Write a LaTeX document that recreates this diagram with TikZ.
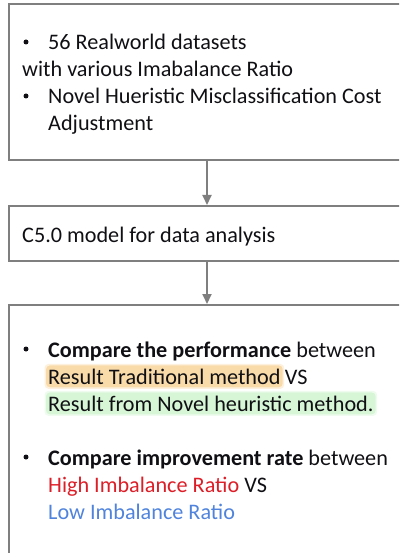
\documentclass[tikz,border=0pt]{standalone}
\usepackage{fontspec}
\setmainfont{Carlito}
\usetikzlibrary{arrows.meta,fit,backgrounds}
\definecolor{frame}{HTML}{7F7F7F}
\definecolor{ink}{HTML}{101014}
\definecolor{hired}{HTML}{DC1E28}
\definecolor{loblue}{HTML}{4F83DC}
\definecolor{glowor}{HTML}{F9DBAA}
\definecolor{glowgr}{HTML}{D6F6D6}

\begin{document}
\begin{tikzpicture}[x=1pt,y=-1pt,
  box/.style={draw=frame, line width=2pt, minimum width=396pt, inner sep=0pt},
  txt/.style={anchor=base west, inner sep=0pt, text=ink, font=\fontsize{22.2}{27}\selectfont},
  dot/.style={circle, fill=ink, inner sep=0pt, minimum size=5pt},
  flow/.style={draw=frame, line width=2pt, -{Triangle[length=10pt,width=9pt]}},
  glow/.style={inner xsep=2pt, inner ysep=3pt, rounded corners=4pt},
]
\useasboundingbox (0,0) rectangle (399,553);
\clip (0,0) rectangle (399,553);

% process boxes
\node[box, minimum height=155.5pt] (input) at (207,82.25) {};
\node[box, minimum height=55pt] (model) at (207,233.5) {};
\node[box, minimum height=300pt] (result) at (207,455) {};

% connectors
\draw[flow] (input.south) -- (model.north);
\draw[flow] (model.south) -- (result.north);

% input box text
\node[dot] (b1) at (26,42) {};
\node[txt] (l1) at (48,50) {56 Realworld datasets};
\node[txt] (l2) at (22,77) {with various Imabalance Ratio};
\node[dot] (b2) at (26,96) {};
\node[txt] (l3) at (48,104) {Novel Hueristic Misclassification Cost};
\node[txt] (l4) at (48,131) {Adjustment};

% model box text
\node[txt] (m1) at (22,242) {C5.0 model for data analysis};

% result box text
\node[dot] (b3) at (26,349) {};
\node[txt] (r1) at (48,357) {\textbf{Compare the performance} between};
\node[txt] (trad) at (48,384) {Result Traditional method};
\node[txt] (vs1) at ([xshift=4pt]trad.base east) {VS};
\node[txt] (novel) at (48,411) {Result from Novel heuristic method.};
\node[dot] (b4) at (26,457) {};
\node[txt] (r2) at (48,465) {\textbf{Compare improvement rate} between};
\node[txt] (high) at (48,492) {\textcolor{hired}{High Imbalance Ratio} VS};
\node[txt] (low) at (48,519) {\textcolor{loblue}{Low Imbalance Ratio}};

% soft highlight glow behind the two method names
\begin{scope}[on background layer]
  \node[fit=(trad), glow, inner xsep=3.5pt, inner ysep=4.5pt, fill=glowor, opacity=.4] {};
  \node[fit=(trad), glow, fill=glowor] {};
  \node[fit=(novel), glow, inner xsep=3.5pt, inner ysep=4.5pt, fill=glowgr, opacity=.4] {};
  \node[fit=(novel), glow, fill=glowgr] {};
\end{scope}
\end{tikzpicture}
\end{document}
